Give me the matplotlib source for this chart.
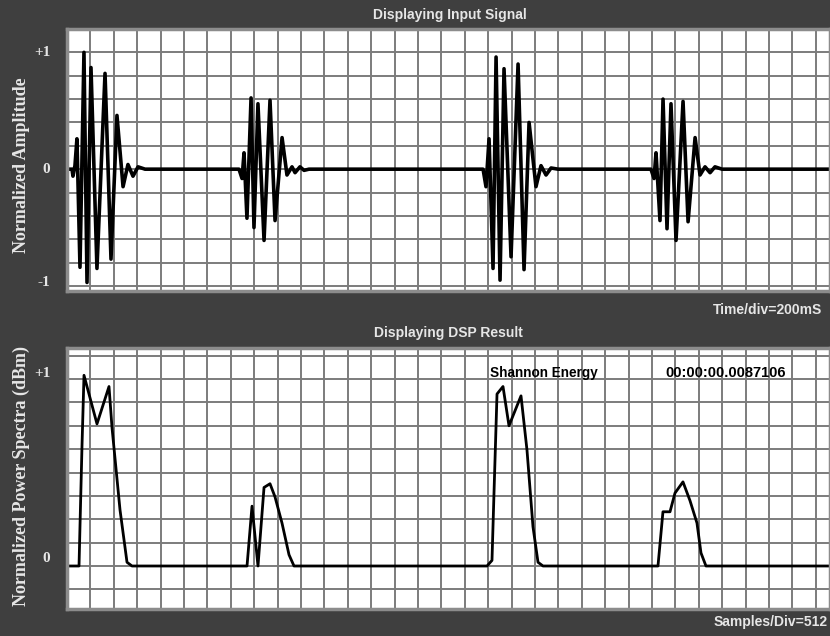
import matplotlib.pyplot as plt
import numpy as np

# input signal: time (s) and normalized amplitude at the turning points of the trace
sig_t = [0.0, 0.043, 0.051, 0.068, 0.085, 0.111, 0.145, 0.171, 0.205, 0.256, 0.325,
         0.376, 0.427, 0.479, 0.521, 0.564, 0.607, 0.667,
         1.470, 1.496, 1.513, 1.538, 1.573, 1.598, 1.632, 1.684, 1.735, 1.778,
         1.838, 1.880, 1.923, 1.949, 1.991, 2.026, 2.068,
         3.556, 3.581, 3.607, 3.641, 3.667, 3.701, 3.735, 3.795, 3.855, 3.906,
         3.949, 4.008, 4.051, 4.094, 4.137, 4.197,
         4.991, 5.017, 5.034, 5.068, 5.094, 5.128, 5.162, 5.205, 5.265, 5.308,
         5.368, 5.410, 5.453, 5.496, 5.538, 5.598, 6.55]
sig_a = [0.0, 0.0, -0.06, 0.03, 0.26, -0.84, 1.00, -0.97, 0.87, -0.85, 0.82,
         -0.77, 0.46, -0.15, 0.04, -0.06, 0.02, 0.0,
         0.0, -0.08, 0.14, -0.42, 0.61, -0.50, 0.56, -0.61, 0.59, -0.44,
         0.27, -0.05, 0.02, -0.03, 0.02, -0.01, 0.0,
         0.0, -0.15, 0.26, -0.85, 0.96, -0.95, 0.86, -0.75, 0.90, -0.86,
         0.40, -0.15, 0.03, -0.05, 0.01, 0.0,
         0.0, -0.08, 0.14, -0.44, 0.60, -0.51, 0.56, -0.61, 0.58, -0.45,
         0.27, -0.05, 0.02, -0.03, 0.02, 0.0, 0.0]

# shannon energy envelope: sample index and normalized value
se_n = [0, 263, 284, 328, 372, 656, 919, 985, 1160, 1313, 1422,
        3939, 4048, 4179, 4311, 4442, 4551, 4704, 4858, 4967,
        9190, 9299, 9343, 9409, 9540, 9671, 9934, 10065, 10196, 10306, 10415,
        12931, 13040, 13194, 13303, 13478, 13631, 13784, 13872, 13981, 16800]
se_v = [0.0, 0.0, 0.21, 0.64, 1.02, 0.76, 0.96, 0.74, 0.30, 0.02, 0.0,
        0.0, 0.32, 0.0, 0.42, 0.44, 0.37, 0.23, 0.06, 0.0,
        0.0, 0.03, 0.39, 0.92, 0.96, 0.75, 0.91, 0.62, 0.21, 0.02, 0.0,
        0.0, 0.29, 0.29, 0.39, 0.45, 0.35, 0.23, 0.07, 0.0, 0.0]

bg = '#3f3f3f'
fg = '#e6e6e6'
grid_c = '#7c7c7c'

fig = plt.figure(figsize=(8.3, 6.36), dpi=100, facecolor=bg)
ax1 = fig.add_axes([67/830, 1-291/636, 1-67/830, 262/636])
ax2 = fig.add_axes([67/830, 1-609/636, 1-67/830, 261/636])

for ax in (ax1, ax2):
    ax.set_facecolor('white')
    for s in ax.spines.values():
        s.set_color('#8c8c8c')
        s.set_linewidth(2.5)
    ax.tick_params(length=0, labelbottom=False)
    ax.grid(True, color=grid_c, linewidth=1.4)
    ax.set_axisbelow(True)

tick_font = dict(family='Liberation Serif', weight='bold', size=11)

# top panel
ax1.plot(sig_t, sig_a, color='black', linewidth=2.6)
ax1.set_xlim(0, 6.521)
ax1.set_ylim(-1.043, 1.197)
ax1.set_xticks(np.arange(0, 6.6, 0.2))
ax1.set_yticks(np.arange(-1.0, 1.21, 0.2))
ax1.set_yticklabels([])
for val, lab in [(1.0, '+1'), (0.0, '0'), (-0.97, '-1')]:
    ax1.annotate(lab, xy=(0, val), xycoords=('axes fraction', 'data'),
                 xytext=(-12, 0), textcoords='offset points', ha='right',
                 va='center', color=fg, fontproperties=tick_font)
ax1.set_ylabel('Normalized Amplitude', family='Liberation Serif', weight='bold',
               fontsize=13, color=fg)
ax1.yaxis.set_label_coords(-0.048, 0.48)

# bottom panel
ax2.plot(se_n, se_v, color='black', linewidth=2.0)
ax2.set_xlim(0, 16695)
ax2.set_ylim(-0.230, 1.166)
ax2.set_xticks(np.arange(0, 16700, 512))
ax2.set_yticks(np.arange(-0.125, 1.17, 0.125))
ax2.set_yticklabels([])
for val, lab in [(1.03, '+1'), (0.04, '0')]:
    ax2.annotate(lab, xy=(0, val), xycoords=('axes fraction', 'data'),
                 xytext=(-12, 0), textcoords='offset points', ha='right',
                 va='center', color=fg, fontproperties=tick_font)
ax2.set_ylabel('Normalized Power Spectra (dBm)', family='Liberation Serif',
               weight='bold', fontsize=13, color=fg)
ax2.yaxis.set_label_coords(-0.048, 0.51)

ax2.text(0.555, 0.905, 'Shannon Energy', transform=ax2.transAxes,
         family='Liberation Sans', weight='bold', fontsize=9.8, color='black',
         va='center')
ax2.text(0.784, 0.905, '00:00:00.0087106', transform=ax2.transAxes,
         family='Liberation Sans', weight='bold', fontsize=10.5, color='black',
         va='center')

# captions on the dark frame
cap = dict(family='Liberation Sans', weight='bold', fontsize=10, color=fg, va='center')
fig.text(450/830, 1-15/636, 'Displaying Input Signal', ha='center', **cap)
fig.text(448/830, 1-333/636, 'Displaying DSP Result', ha='center', **cap)
fig.text(822/830, 1-310/636, 'Time/div=200mS', ha='right', **cap)
fig.text(828/830, 1-622/636, 'Samples/Div=512', ha='right', **cap)

fig.savefig('out.png', dpi=100, facecolor=bg)
